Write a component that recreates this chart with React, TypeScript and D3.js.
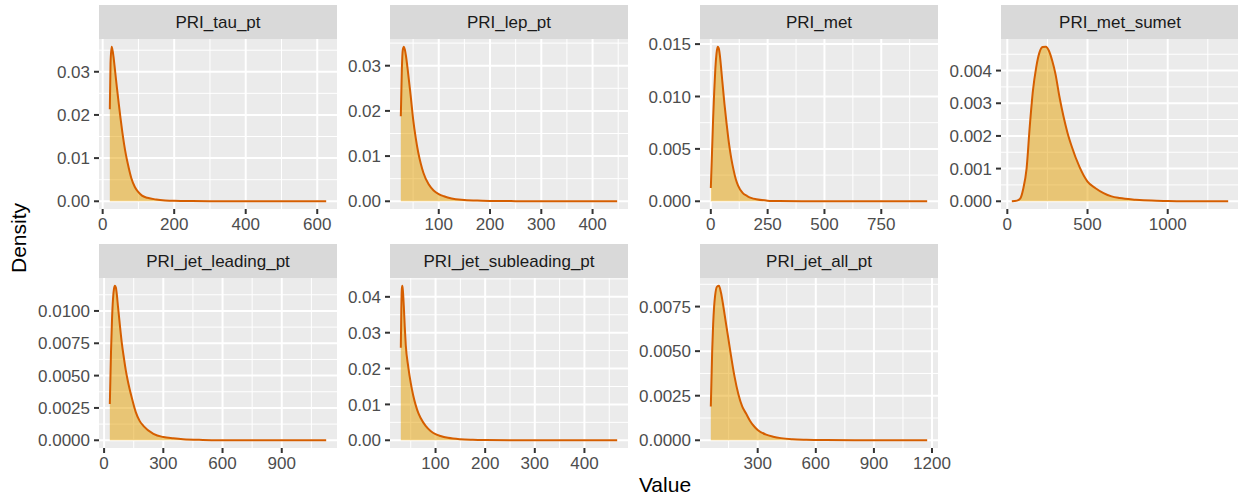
import React from 'react';
import * as d3 from 'd3';

// ---------- data ----------
const panelNames = [
  'PRI_tau_pt', 'PRI_lep_pt', 'PRI_met', 'PRI_met_sumet',
  'PRI_jet_leading_pt', 'PRI_jet_subleading_pt', 'PRI_jet_all_pt',
];

const tauX = [20, 22, 25, 28, 30, 35, 40, 45, 50, 55, 60, 65, 70, 80, 90, 100, 110, 125, 150, 175, 200, 250, 300, 400, 500, 625];
const tauY = [0.0213, 0.032, 0.0358, 0.0348, 0.0337, 0.03, 0.0262, 0.0226, 0.0192, 0.016, 0.0132, 0.0108, 0.0088, 0.0054, 0.0033, 0.0021, 0.0013, 0.0008, 0.0004, 0.0002, 0.0001, 0.00004, 0.00002, 0.00001, 0, 0];

const lepX = [26, 28, 30, 32, 34, 36, 40, 45, 50, 55, 60, 65, 70, 80, 90, 100, 110, 125, 150, 175, 200, 250, 300, 448];
const lepY = [0.0188, 0.0292, 0.0336, 0.0342, 0.0335, 0.0322, 0.0286, 0.0236, 0.0182, 0.0141, 0.0108, 0.0083, 0.0063, 0.0038, 0.0024, 0.0016, 0.0011, 0.0006, 0.0003, 0.00015, 0.00008, 0.00003, 0.00001, 0];

const metX = [0, 5, 10, 15, 20, 25, 30, 35, 40, 45, 50, 60, 70, 80, 90, 100, 110, 120, 140, 160, 180, 200, 250, 300, 400, 600, 952];
const metY = [0.00127, 0.0045, 0.0078, 0.0105, 0.0127, 0.0141, 0.01475, 0.0146, 0.0139, 0.0128, 0.0116, 0.0093, 0.0073, 0.0055, 0.0041, 0.003, 0.0021, 0.0015, 0.0008, 0.0005, 0.0003, 0.0002, 0.00006, 0.00002, 0, 0, 0];

const sumetX = [28, 60, 80, 100, 120, 140, 160, 180, 200, 220, 240, 260, 280, 300, 325, 350, 375, 400, 450, 500, 550, 600, 650, 700, 800, 900, 1000, 1200, 1377];
const sumetY = [0, 0.00002, 0.00008, 0.0004, 0.001, 0.0023, 0.0034, 0.0041, 0.00455, 0.00472, 0.00473, 0.0046, 0.0043, 0.0039, 0.0032, 0.0026, 0.0021, 0.0017, 0.00105, 0.0006, 0.0004, 0.00025, 0.00015, 0.0001, 0.00005, 0.00002, 0.00001, 0, 0];

const leadX = [29, 35, 40, 45, 50, 55, 60, 65, 70, 80, 90, 100, 110, 120, 140, 160, 180, 200, 250, 300, 350, 400, 500, 600, 800, 1125];
const leadY = [0.0028, 0.0068, 0.0093, 0.0109, 0.0117, 0.01195, 0.0118, 0.0112, 0.0104, 0.0089, 0.0075, 0.0064, 0.0054, 0.0046, 0.0033, 0.0022, 0.0015, 0.0011, 0.0005, 0.00025, 0.00015, 0.00008, 0.00003, 0.00001, 0, 0];

const subX = [30, 31, 32, 33, 34, 36, 38, 40, 45, 50, 55, 60, 65, 70, 80, 90, 100, 110, 125, 150, 175, 200, 250, 300, 466];
const subY = [0.0258, 0.0365, 0.0421, 0.0431, 0.042, 0.0375, 0.0315, 0.0265, 0.0205, 0.016, 0.0125, 0.0098, 0.0077, 0.0062, 0.004, 0.0026, 0.0017, 0.0012, 0.0007, 0.0003, 0.00015, 0.00008, 0.00003, 0.00001, 0];

const allX = [58, 65, 70, 75, 80, 90, 100, 110, 120, 130, 140, 150, 160, 180, 200, 220, 240, 260, 280, 300, 340, 380, 420, 480, 550, 650, 800, 1000, 1175];
const allY = [0.0019, 0.005, 0.0065, 0.0075, 0.0081, 0.00862, 0.00867, 0.0083, 0.0077, 0.007, 0.0063, 0.0056, 0.0049, 0.0036, 0.0026, 0.0019, 0.0015, 0.0011, 0.0008, 0.00058, 0.00033, 0.0002, 0.00012, 0.00006, 0.00003, 0.00001, 0, 0, 0];

const xBreaks = [
  [0, 200, 400, 600],
  [100, 200, 300, 400],
  [0, 250, 500, 750],
  [0, 500, 1000],
  [0, 300, 600, 900],
  [100, 200, 300, 400],
  [300, 600, 900, 1200],
];
const yBreaks = [
  [0, 0.01, 0.02, 0.03],
  [0, 0.01, 0.02, 0.03],
  [0, 0.005, 0.01, 0.015],
  [0, 0.001, 0.002, 0.003, 0.004],
  [0, 0.0025, 0.005, 0.0075, 0.01],
  [0, 0.01, 0.02, 0.03, 0.04],
  [0, 0.0025, 0.005, 0.0075],
];
const yDigits = [2, 2, 3, 3, 4, 2, 4];

const seriesX = [tauX, lepX, metX, sumetX, leadX, subX, allX];
const seriesY = [tauY, lepY, metY, sumetY, leadY, subY, allY];

// ---------- layout ----------
const W = 1238;
const H = 499;
const colLeft = [99, 390, 700, 1001];
const panelW = 238;
const rowTop = [5, 244];
const stripH = 34;
const panelH = 170;
const FONT = "'Liberation Sans', Arial, Helvetica, sans-serif";

function minorBreaks(b: number[], lo: number, hi: number) {
  const step = b[1] - b[0];
  const ext = [b[0] - step, ...b, b[b.length - 1] + step];
  const out: number[] = [];
  for (let i = 0; i < ext.length - 1; i++) {
    const m = (ext[i] + ext[i + 1]) / 2;
    if (m >= lo && m <= hi) out.push(m);
  }
  return out;
}

function Panel({ i }: { i: number }) {
  const col = i % 4;
  const row = Math.floor(i / 4);
  const left = colLeft[col];
  const top = rowTop[row] + stripH;
  const xs = seriesX[i];
  const ys = seriesY[i];
  const xmin = d3.min(xs) as number;
  const xmax = d3.max(xs) as number;
  const ex = (xmax - xmin) * 0.05;
  const x = d3.scaleLinear().domain([xmin - ex, xmax + ex]).range([left, left + panelW]);
  const ymax = d3.max(ys) as number;
  const y = d3.scaleLinear().domain([-ymax * 0.05, ymax * 1.05]).range([top + panelH, top]);
  const [xlo, xhi] = x.domain();
  const [ylo, yhi] = y.domain();
  const xb = xBreaks[i].filter((v) => v >= xlo && v <= xhi);
  const yb = yBreaks[i].filter((v) => v >= ylo && v <= yhi);
  const xm = minorBreaks(xBreaks[i], xlo, xhi);
  const ym = minorBreaks(yBreaks[i], ylo, yhi);
  const pts: [number, number][] = xs.map((v, k) => [v, ys[k]]);
  const area = d3.area<[number, number]>()
    .x((d) => x(d[0]))
    .y0(y(0))
    .y1((d) => y(d[1]))
    .curve(d3.curveMonotoneX);
  const line = d3.line<[number, number]>()
    .x((d) => x(d[0]))
    .y((d) => y(d[1]))
    .curve(d3.curveMonotoneX);
  const bottom = top + panelH;
  return (
    <g>
      <rect x={left} y={rowTop[row]} width={panelW} height={stripH} fill="#D9D9D9" />
      <text x={left + panelW / 2} y={rowTop[row] + stripH / 2 + 6} textAnchor="middle"
        fontSize={17} fill="#1A1A1A" fontFamily={FONT}>{panelNames[i]}</text>
      <rect x={left} y={top} width={panelW} height={panelH} fill="#EBEBEB" />
      {xm.map((v) => (
        <line key={'xm' + v} x1={x(v)} x2={x(v)} y1={top} y2={bottom} stroke="#fff" strokeWidth={1} />
      ))}
      {ym.map((v) => (
        <line key={'ym' + v} x1={left} x2={left + panelW} y1={y(v)} y2={y(v)} stroke="#fff" strokeWidth={1} />
      ))}
      {xb.map((v) => (
        <line key={'xb' + v} x1={x(v)} x2={x(v)} y1={top} y2={bottom} stroke="#fff" strokeWidth={2} />
      ))}
      {yb.map((v) => (
        <line key={'yb' + v} x1={left} x2={left + panelW} y1={y(v)} y2={y(v)} stroke="#fff" strokeWidth={2} />
      ))}
      <path d={area(pts) || ''} fill="#E69F00" fillOpacity={0.5} />
      <path d={line(pts) || ''} fill="none" stroke="#D55E00" strokeWidth={2} strokeLinejoin="round" />
      {xb.map((v) => (
        <g key={'xt' + v}>
          <line x1={x(v)} x2={x(v)} y1={bottom} y2={bottom + 5} stroke="#333" strokeWidth={2} />
          <text x={x(v)} y={bottom + 20.5} textAnchor="middle" fontSize={17} fill="#4D4D4D" fontFamily={FONT}>
            {String(v)}
          </text>
        </g>
      ))}
      {yb.map((v) => (
        <g key={'yt' + v}>
          <line x1={left - 5} x2={left} y1={y(v)} y2={y(v)} stroke="#333" strokeWidth={2} />
          <text x={left - 9} y={y(v) + 6.1} textAnchor="end" fontSize={17} fill="#4D4D4D" fontFamily={FONT}>
            {v.toFixed(yDigits[i])}
          </text>
        </g>
      ))}
    </g>
  );
}

export default function App() {
  return (
    <svg width={W} height={H} style={{ position: 'absolute', left: 0, top: 0, background: '#fff' }}>
      <rect x={0} y={0} width={W} height={H} fill="#fff" />
      {panelNames.map((_, i) => (
        <Panel key={i} i={i} />
      ))}
      <text x={665} y={492} textAnchor="middle" fontSize={21} fill="#000" fontFamily={FONT}>Value</text>
      <text transform="translate(26,238) rotate(-90)" textAnchor="middle" fontSize={21} fill="#000" fontFamily={FONT}>
        Density
      </text>
    </svg>
  );
}
